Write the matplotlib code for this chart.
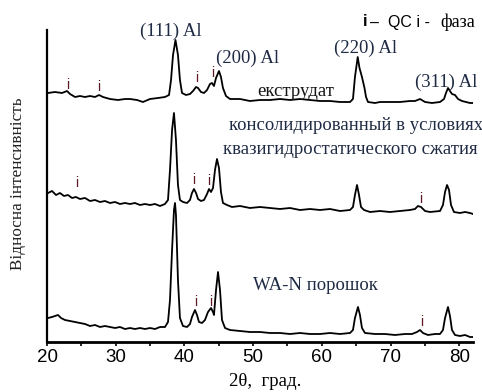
import matplotlib
matplotlib.use("Agg")
import matplotlib.pyplot as plt

# ---- data: 2theta (deg) and relative intensity (arb. units, already stacked) ----
tt_extr = [20.15, 21.16, 22.18, 22.91, 23.35, 24.08, 24.80, 25.53, 26.26, 26.99, 27.57, 28.15,
           29.17, 30.33, 31.35, 32.08, 33.10, 33.97, 34.99, 36.15, 37.17, 37.76, 38.05, 38.34,
           38.70, 39.06, 39.35, 39.65, 40.23, 40.81, 41.25, 41.69, 41.98, 42.41, 42.85, 43.29,
           43.72, 44.01, 44.30, 44.60, 45.03, 45.32, 45.61, 46.05, 46.63, 48.09, 49.54, 51.00,
           52.45, 53.91, 55.37, 56.82, 58.28, 59.73, 61.19, 62.64, 64.10, 64.53, 64.82, 65.22,
           65.48, 65.84, 66.21, 66.43, 66.72, 67.74, 68.46, 69.92, 71.37, 72.83, 73.56, 74.29,
           75.02, 76.03, 77.20, 77.78, 78.07, 78.36, 78.65, 78.94, 79.38, 79.82, 80.40, 80.98,
           81.56, 82.00]
int_extr = [249, 250, 249, 251, 248, 245, 246, 245, 246, 245, 247, 245,
            243, 242, 243, 243, 242, 240, 243, 244, 245, 247, 262, 287,
            302, 287, 262, 249, 247, 248, 251, 255, 254, 250, 249, 252,
            258, 259, 256, 264, 271, 265, 254, 246, 243, 243, 241, 242,
            242, 243, 242, 243, 242, 241, 241, 240, 240, 243, 265, 285,
            274, 265, 254, 245, 240, 239, 240, 240, 240, 241, 241, 243,
            240, 239, 240, 243, 249, 254, 251, 248, 247, 243, 241, 240,
            239, 239]

tt_cons = [20.15, 20.73, 21.31, 21.89, 22.47, 23.06, 23.64, 24.22, 24.80, 25.53, 26.26, 26.99,
           27.71, 28.44, 29.17, 29.90, 30.62, 31.35, 32.08, 32.81, 33.53, 34.26, 34.99, 35.72,
           36.45, 37.17, 37.61, 37.90, 38.20, 38.48, 38.77, 39.06, 39.35, 39.79, 40.38, 40.81,
           41.10, 41.39, 41.69, 41.98, 42.41, 42.85, 43.29, 43.58, 43.87, 44.16, 44.45, 44.74,
           45.03, 45.32, 45.61, 46.20, 46.92, 48.09, 49.54, 51.00, 52.45, 53.91, 55.37, 56.82,
           58.28, 59.73, 61.19, 62.64, 64.10, 64.53, 64.82, 65.12, 65.41, 65.70, 66.14, 67.01,
           68.46, 69.92, 71.37, 72.83, 73.56, 73.99, 74.43, 75.02, 75.74, 77.20, 77.63, 77.93,
           78.22, 78.51, 78.80, 79.23, 80.11, 80.84, 81.56, 82.00]
int_cons = [149, 151, 147, 149, 146, 147, 144, 145, 143, 144, 141, 142,
            140, 141, 139, 140, 138, 139, 138, 139, 137, 138, 137, 138,
            136, 138, 142, 172, 212, 229, 202, 157, 142, 140, 139, 142,
            149, 153, 149, 143, 141, 142, 148, 153, 150, 154, 172, 183,
            174, 150, 139, 137, 135, 136, 134, 135, 134, 133, 134, 132,
            133, 132, 133, 131, 132, 135, 147, 157, 147, 135, 132, 130,
            131, 130, 131, 132, 133, 136, 135, 131, 130, 131, 137, 150,
            157, 152, 137, 130, 129, 130, 129, 128]

tt_pow = [20.15, 20.73, 21.16, 21.60, 22.04, 22.62, 23.35, 24.08, 24.80, 25.53, 26.26, 26.99,
          27.71, 28.44, 29.17, 29.90, 30.62, 31.35, 32.08, 32.81, 33.53, 34.26, 34.99, 35.72,
          36.45, 37.17, 37.61, 37.90, 38.20, 38.48, 38.63, 38.77, 39.06, 39.35, 39.79, 40.38,
          40.81, 41.10, 41.54, 41.83, 42.12, 42.56, 42.99, 43.43, 43.87, 44.16, 44.30, 44.60,
          44.89, 45.18, 45.47, 45.91, 46.63, 48.09, 49.54, 51.00, 52.45, 53.91, 55.37, 56.82,
          58.28, 59.73, 61.19, 62.64, 64.10, 64.53, 64.82, 65.26, 65.55, 65.84, 66.28, 67.74,
          69.19, 70.65, 72.10, 73.12, 73.85, 74.29, 74.72, 75.45, 76.47, 77.20, 77.63, 77.93,
          78.36, 78.65, 78.94, 79.38, 80.11, 80.84, 81.56, 82.00]
int_pow = [24, 25, 26, 27, 24, 22, 21, 20, 19, 18, 16, 17,
           15, 16, 15, 14, 15, 13, 14, 13, 14, 13, 14, 13,
           15, 15, 20, 42, 92, 132, 139, 127, 62, 24, 16, 15,
           18, 25, 32, 27, 20, 19, 22, 30, 34, 30, 27, 52,
           70, 52, 22, 14, 12, 11, 10, 10, 9, 9, 8, 9,
           8, 8, 9, 8, 9, 12, 24, 35, 27, 14, 9, 8,
           8, 7, 8, 8, 10, 12, 9, 7, 8, 8, 12, 24,
           35, 26, 12, 7, 6, 7, 5, 5]

# QC i-phase marker positions (2theta, intensity level)
i_tt = [23.06, 27.57, 41.83, 44.16, 24.37, 41.39, 43.58, 74.43, 41.69, 43.87, 74.58]
i_int = [257, 255, 264, 269, 159, 162, 161, 143, 40, 40, 20]

# Al reflection labels
al_labels = ["(111) Al", "(200) Al", "(220) Al", "(311) Al"]
al_tt = [38.05, 49.25, 66.43, 73.55]
al_int = [311, 284, 294, 260]

x_ticks = [20, 30, 40, 50, 60, 70, 80]
x_minor = [25, 35, 45, 55, 65, 75]

fig = plt.figure(figsize=(4.82, 3.92), dpi=100)
ax = fig.add_axes([47 / 482, 50 / 392, 426 / 482, 312 / 392])

for tt, it in [(tt_extr, int_extr), (tt_cons, int_cons), (tt_pow, int_pow)]:
    ax.plot(tt, it, color="black", lw=1.3)

ax.set_xlim(20, 82)
ax.set_ylim(0, 312)
for s in ["top", "right"]:
    ax.spines[s].set_visible(False)
ax.spines["left"].set_linewidth(1.6)
ax.spines["bottom"].set_linewidth(2.0)
ax.set_yticks([])
ax.set_xticks(x_ticks)
ax.set_xticks(x_minor, minor=True)
ax.tick_params(axis="x", which="both", direction="out", length=3, width=1.2, pad=2)
for lab in ax.get_xticklabels():
    lab.set_family("Liberation Sans")
    lab.set_fontsize(13.5)

serif = "Liberation Serif"
tcol = "#1f2a44"
for lab, x, y in zip(al_labels, al_tt, al_int):
    ha = "left" if lab == "(311) Al" else "center"
    ax.text(x, y, lab, family=serif, fontsize=13.5, color=tcol, ha=ha, va="center", clip_on=False)

for x, y in zip(i_tt, i_int):
    ax.text(x, y, "i", family="Liberation Sans", fontsize=10, color="#5e1a22",
            ha="center", va="center", clip_on=False)

ax.text(56.24, 250, "екструдат", family=serif, fontsize=13.5, color="#151515", ha="center", va="center")
ax.text(46.49, 217, "консолидированный в условиях", family=serif, fontsize=13.5, color=tcol,
        ha="left", va="center", clip_on=False)
ax.text(45.61, 193, "квазигидростатического сжатия", family=serif, fontsize=13.5, color=tcol,
        ha="left", va="center", clip_on=False)
ax.text(59.0, 57, "WA-N порошок", family=serif, fontsize=13.5, color=tcol, ha="center", va="center")

# legend line at top right
fig.text(365 / 482, 1 - 22 / 392, "i", family="Liberation Sans", fontsize=11.5, fontweight="bold",
         ha="center", va="center")
fig.text(370 / 482, 1 - 22 / 392, "–  QC i - ", family="Liberation Sans", fontsize=11.5,
         ha="left", va="center")
fig.text(440 / 482, 1 - 22 / 392, "фаза", family=serif, fontsize=13, ha="left", va="center")

fig.text(18 / 482, 1 - 184 / 392, "Відносна інтенсивність", family=serif, fontsize=12.3,
         color="#222222", rotation=90, ha="center", va="center")
fig.text(265 / 482, 1 - 382 / 392, "2θ,  град.", family=serif, fontsize=13.5,
         ha="center", va="center")

fig.savefig("out.png", dpi=100)
